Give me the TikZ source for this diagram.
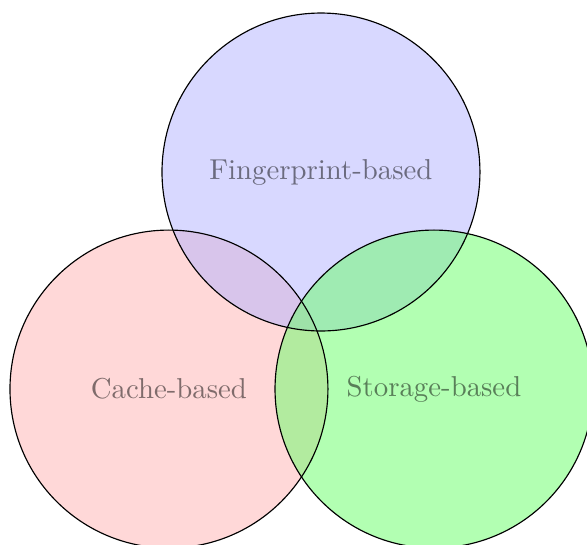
\documentclass[tikz,border=0pt]{standalone}
\usepackage{tikz}

\begin{document}
\begin{tikzpicture}[
    set/.style={circle, minimum size=3.882cm, inner sep=0pt,
                fill opacity=0.5, text opacity=0.5}
]
\def\r{1.941} % radius of each set

% Fix the frame of the picture
\useasboundingbox (-3.919,2.100) rectangle (3.248,-4.554);

% Fill the three sets
\node[set, fill=red!30]   (cache)       at (-1.856,-2.650) {Cache-based};
\node[set, fill=blue!30]  (fingerprint) at (0,0)           {Fingerprint-based};
\node[set, fill=green!60] (storage)     at (1.380,-2.650)  {Storage-based};

% Draw the outlines on top
\foreach \s in {cache,fingerprint,storage}{
    \draw (\s.center) circle (\r);
}

\end{tikzpicture}
\end{document}
